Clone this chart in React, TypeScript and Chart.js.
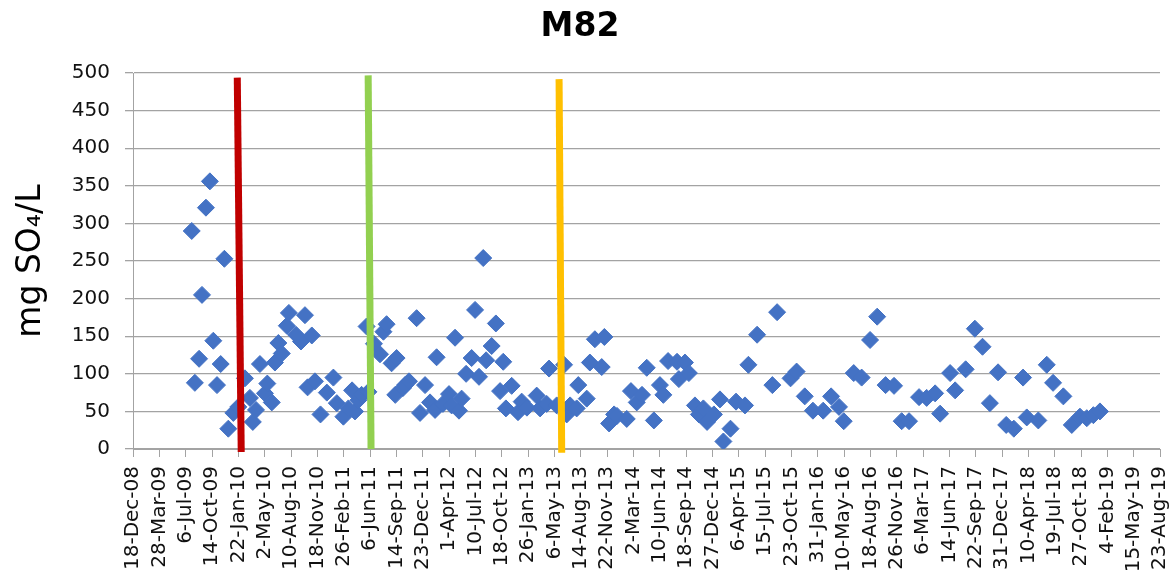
import React, { useEffect, useRef } from "react";
import { Chart, registerables } from "chart.js";

Chart.register(...registerables);

// Days since 18-Dec-2008 and sulphate concentrations (mg SO4/L)
const sampleDays = [
  223, 235, 251, 262, 277, 292, 305, 319, 333, 347, 362, 381, 400, 425, 444, 455, 467, 482, 501, 510,
  527, 539, 552, 565, 584, 592, 619, 638, 653, 679, 663, 691, 712, 736, 761, 774, 799, 818, 832, 843,
  856, 868, 887, 894, 915, 938, 951, 963, 982, 1001, 996, 1025, 1033, 1048, 1077, 1090, 1109, 1128, 1147, 1153,
  1177, 1200, 1210, 1223, 1238, 1248, 1265, 1286, 1299, 1314, 1330, 1341, 1362, 1378, 1394, 1406, 1416, 1438, 1462, 1476,
  1496, 1533, 1546, 1571, 1580, 1609, 1637, 1647, 1660, 1685, 1691, 1723, 1735, 1754, 1780, 1790, 1808, 1827, 1838, 1875,
  1891, 1913, 1933, 1951, 1978, 2001, 2014, 2032, 2066, 2073, 2096, 2111, 2134, 2149, 2166, 2180, 2206, 2229, 2242, 2269,
  2290, 2324, 2337, 2370, 2428, 2446, 2497, 2520, 2551, 2582, 2621, 2651, 2681, 2699, 2737, 2767, 2799, 2826, 2858, 2890,
  2919, 2947, 2985, 3014, 3046, 3065, 3103, 3122, 3162, 3197, 3226, 3254, 3285, 3316, 3345, 3380, 3394, 3438, 3470, 3494,
  3533, 3565, 3596, 3622, 3647, 3672,
];
const so4Values = [
  290, 88, 120, 205, 321, 356, 144, 85, 113, 253, 27, 48, 56, 94, 68, 36, 52, 113, 74, 87,
  62, 115, 141, 127, 164, 181, 152, 143, 178, 151, 82, 90, 46, 75, 95, 61, 43, 54, 78, 50,
  65, 72, 163, 76, 140, 126, 156, 166, 114, 121, 72, 81, 85, 90, 174, 48, 85, 62, 52, 122,
  60, 73, 58, 148, 51, 67, 100, 121, 185, 96, 254, 118, 137, 167, 77, 116, 54, 84, 49, 63,
  55, 71, 54, 60, 107, 58, 112, 46, 58, 54, 85, 67, 115, 146, 109, 149, 34, 46, 44, 40,
  77, 62, 72, 108, 38, 85, 72, 117, 116, 93, 115, 101, 58, 46, 54, 36, 46, 66, 10, 27,
  63, 58, 112, 152, 85, 182, 94, 103, 70, 51, 51, 70, 56, 37, 101, 95, 145, 176, 85, 84,
  37, 37, 69, 68, 74, 47, 101, 78, 106, 160, 136, 61, 102, 32, 27, 95, 42, 38, 112, 88,
  70, 32, 43, 41, 45, 50,
];

// Marker lines (hand-drawn in the original, slightly slanted): [top, bottom]
const redLineDays = [396, 411];
const redLineValues = [494, -4];
const greenLineDays = [893, 904];
const greenLineValues = [497, 0];
const yellowLineDays = [1618, 1628];
const yellowLineValues = [492, -5];

const yTicks = [0, 50, 100, 150, 200, 250, 300, 350, 400, 450, 500];
const MONTHS = ["Jan", "Feb", "Mar", "Apr", "May", "Jun", "Jul", "Aug", "Sep", "Oct", "Nov", "Dec"];
const BASE_DATE = Date.UTC(2008, 11, 18);
const X_MAX_DAYS = 3900;

function fmtDay(v: number): string {
  const d = new Date(BASE_DATE + v * 86400000);
  return `${d.getUTCDate()}-${MONTHS[d.getUTCMonth()]}-${String(d.getUTCFullYear()).slice(2)}`;
}

const pts = (xs: number[], ys: number[]) => xs.map((x, i) => ({ x, y: ys[i] }));

export default function App() {
  const ref = useRef<HTMLCanvasElement>(null);
  useEffect(() => {
    document.body.style.margin = "0";
    const ctx = ref.current!;
    const GRID = "#a3a3a3";
    const chart = new Chart(ctx, {
      type: "scatter",
      data: {
        datasets: [
          {
            data: pts(redLineDays, redLineValues),
            showLine: true,
            borderColor: "#c00000",
            borderWidth: 7,
            pointRadius: 0,
            clip: false,
            order: 0,
          },
          {
            data: pts(greenLineDays, greenLineValues),
            showLine: true,
            borderColor: "#92d050",
            borderWidth: 7,
            pointRadius: 0,
            clip: false,
            order: 0,
          },
          {
            data: pts(yellowLineDays, yellowLineValues),
            showLine: true,
            borderColor: "#ffc000",
            borderWidth: 7,
            pointRadius: 0,
            clip: false,
            order: 0,
          },
          {
            data: pts(sampleDays, so4Values),
            pointStyle: "rectRot",
            pointRadius: 8.5,
            backgroundColor: "#4472c4",
            borderColor: "#4472c4",
            borderWidth: 1,
            showLine: false,
            order: 1,
          },
        ],
      },
      options: {
        responsive: false,
        animation: false,
        layout: { padding: { left: 0, right: 11, top: 0, bottom: 0 } },
        font: { family: "'DejaVu Sans'" },
        plugins: {
          legend: { display: false },
          tooltip: { enabled: false },
          title: {
            display: true,
            text: "M82",
            color: "#000",
            font: { family: "'DejaVu Sans'", size: 33, weight: "bold" },
            padding: { top: 8, bottom: 25.5 },
          },
        },
        scales: {
          x: {
            type: "linear",
            min: 0,
            max: X_MAX_DAYS,
            afterFit: (s: any) => {
              s.height = 137;
              s.paddingLeft = 0;
              s.paddingRight = 0;
            },
            afterBuildTicks: (s: any) => {
              const t = [];
              for (let v = 0; v <= X_MAX_DAYS; v += 100) t.push({ value: v });
              s.ticks = t;
            },
            ticks: {
              autoSkip: false,
              maxRotation: 90,
              minRotation: 90,
              padding: 9,
              color: "#111",
              font: { family: "'DejaVu Sans'", size: 20 },
              callback: (v: any) => fmtDay(Number(v)),
            },
            grid: { drawOnChartArea: false, drawTicks: true, tickLength: 8, color: GRID },
            border: { display: true, color: GRID, width: 1 },
          },
          y: {
            min: 0,
            max: 500,
            afterFit: (s: any) => {
              s.width = 133;
              s.paddingTop = 0;
              s.paddingBottom = 0;
            },
            afterBuildTicks: (s: any) => {
              s.ticks = yTicks.map((v) => ({ value: v }));
            },
            ticks: {
              padding: 15,
              color: "#111",
              font: { family: "'DejaVu Sans'", size: 20 },
            },
            grid: { color: GRID, lineWidth: 1.3, tickLength: 8 },
            border: { display: true, color: GRID, width: 1 },
            title: {
              display: true,
              text: "mg SO\u2084/L",
              color: "#000",
              font: { family: "'DejaVu Sans'", size: 33 },
              padding: { top: 12, bottom: 0 },
            },
          },
        },
      },
    } as any);
    return () => chart.destroy();
  }, []);
  return (
    <div style={{ width: 1171, height: 586 }}>
      <canvas ref={ref} width={1171} height={586} />
    </div>
  );
}
